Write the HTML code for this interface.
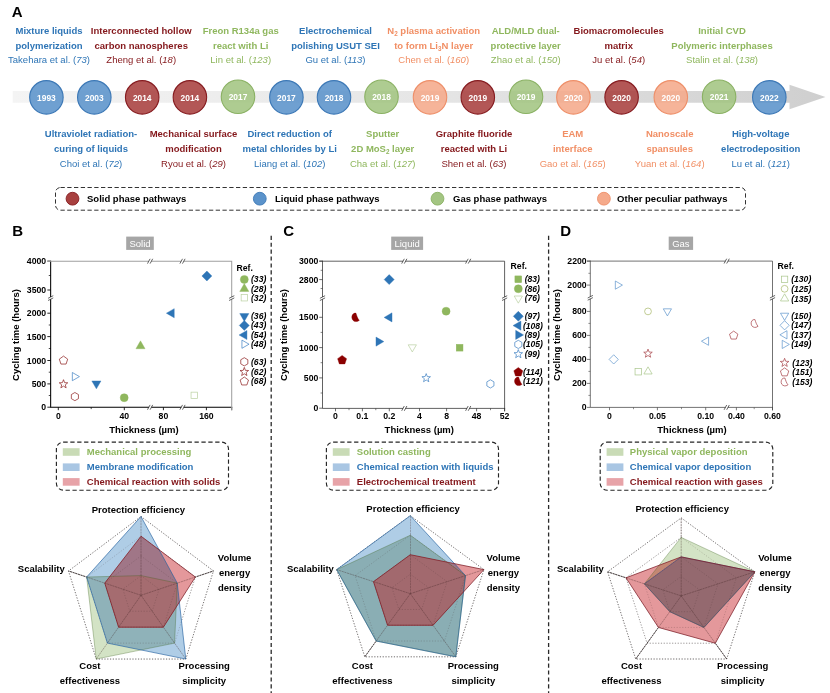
<!DOCTYPE html>
<html lang="en"><head><meta charset="utf-8"><title>Figure</title>
<style>
html,body{margin:0;padding:0;background:#fff;}
body{width:830px;height:693px;overflow:hidden;}
svg{display:block;font-family:"Liberation Sans", sans-serif;}
svg text{font-family:"Liberation Sans", sans-serif;}
</style></head><body>
<svg width="830" height="693" viewBox="0 0 830 693">
<rect width="830" height="693" fill="#fff"/>
<text x="11.80" y="17.30" font-size="15" font-weight="bold" fill="#000" text-anchor="start" >A</text>
<defs><linearGradient id="bar" x1="0" x2="1" y1="0" y2="0"><stop offset="0" stop-color="#f4f4f4"/><stop offset="0.5" stop-color="#e6e6e6"/><stop offset="1" stop-color="#cfcfcf"/></linearGradient></defs>
<path d="M12.7 91.1 H789.5 V84.8 L825.5 97 L789.5 109.3 V102.8 H12.7 Z" fill="url(#bar)"/>
<circle cx="46.4" cy="97.35" r="16.75" fill="#5b93cb" fill-opacity="0.88" stroke="#3c78b6" stroke-width="1.1"/>
<text x="46.40" y="100.50" font-size="8.4" font-weight="bold" fill="#fff" text-anchor="middle" >1993</text>
<circle cx="94.3" cy="97.35" r="16.75" fill="#5b93cb" fill-opacity="0.88" stroke="#3c78b6" stroke-width="1.1"/>
<text x="94.30" y="100.50" font-size="8.4" font-weight="bold" fill="#fff" text-anchor="middle" >2003</text>
<circle cx="142.2" cy="97.35" r="16.75" fill="#a8403f" fill-opacity="0.88" stroke="#861c20" stroke-width="1.1"/>
<text x="142.20" y="100.50" font-size="8.4" font-weight="bold" fill="#fff" text-anchor="middle" >2014</text>
<circle cx="189.9" cy="97.35" r="16.75" fill="#a8403f" fill-opacity="0.88" stroke="#861c20" stroke-width="1.1"/>
<text x="189.90" y="100.50" font-size="8.4" font-weight="bold" fill="#fff" text-anchor="middle" >2014</text>
<circle cx="238.0" cy="96.8" r="16.75" fill="#a3c582" fill-opacity="0.88" stroke="#8ab163" stroke-width="1.1"/>
<text x="238.00" y="100.20" font-size="8.4" font-weight="bold" fill="#fff" text-anchor="middle" >2017</text>
<circle cx="286.4" cy="97.35" r="16.75" fill="#5b93cb" fill-opacity="0.88" stroke="#3c78b6" stroke-width="1.1"/>
<text x="286.40" y="100.50" font-size="8.4" font-weight="bold" fill="#fff" text-anchor="middle" >2017</text>
<circle cx="334.0" cy="97.35" r="16.75" fill="#5b93cb" fill-opacity="0.88" stroke="#3c78b6" stroke-width="1.1"/>
<text x="334.00" y="100.50" font-size="8.4" font-weight="bold" fill="#fff" text-anchor="middle" >2018</text>
<circle cx="381.5" cy="96.8" r="16.75" fill="#a3c582" fill-opacity="0.88" stroke="#8ab163" stroke-width="1.1"/>
<text x="381.50" y="100.20" font-size="8.4" font-weight="bold" fill="#fff" text-anchor="middle" >2018</text>
<circle cx="430.0" cy="97.35" r="16.75" fill="#f5aa8b" fill-opacity="0.88" stroke="#ee8f69" stroke-width="1.1"/>
<text x="430.00" y="100.50" font-size="8.4" font-weight="bold" fill="#fff" text-anchor="middle" >2019</text>
<circle cx="477.8" cy="97.35" r="16.75" fill="#a8403f" fill-opacity="0.88" stroke="#861c20" stroke-width="1.1"/>
<text x="477.80" y="100.50" font-size="8.4" font-weight="bold" fill="#fff" text-anchor="middle" >2019</text>
<circle cx="526.0" cy="96.8" r="16.75" fill="#a3c582" fill-opacity="0.88" stroke="#8ab163" stroke-width="1.1"/>
<text x="526.00" y="100.20" font-size="8.4" font-weight="bold" fill="#fff" text-anchor="middle" >2019</text>
<circle cx="573.4" cy="97.35" r="16.75" fill="#f5aa8b" fill-opacity="0.88" stroke="#ee8f69" stroke-width="1.1"/>
<text x="573.40" y="100.50" font-size="8.4" font-weight="bold" fill="#fff" text-anchor="middle" >2020</text>
<circle cx="621.6" cy="97.35" r="16.75" fill="#a8403f" fill-opacity="0.88" stroke="#861c20" stroke-width="1.1"/>
<text x="621.60" y="100.50" font-size="8.4" font-weight="bold" fill="#fff" text-anchor="middle" >2020</text>
<circle cx="670.8" cy="97.35" r="16.75" fill="#f5aa8b" fill-opacity="0.88" stroke="#ee8f69" stroke-width="1.1"/>
<text x="670.80" y="100.50" font-size="8.4" font-weight="bold" fill="#fff" text-anchor="middle" >2020</text>
<circle cx="719.1" cy="96.8" r="16.75" fill="#a3c582" fill-opacity="0.88" stroke="#8ab163" stroke-width="1.1"/>
<text x="719.10" y="100.20" font-size="8.4" font-weight="bold" fill="#fff" text-anchor="middle" >2021</text>
<circle cx="769.3" cy="97.35" r="16.75" fill="#5b93cb" fill-opacity="0.88" stroke="#3c78b6" stroke-width="1.1"/>
<text x="769.30" y="100.50" font-size="8.4" font-weight="bold" fill="#fff" text-anchor="middle" >2022</text>
<text x="49.00" y="33.80" font-size="9.5" font-weight="bold" fill="#2e75b6" text-anchor="middle" >Mixture liquids</text>
<text x="49.00" y="48.80" font-size="9.5" font-weight="bold" fill="#2e75b6" text-anchor="middle" >polymerization</text>
<text x="49.00" y="63.20" font-size="9.5" font-weight="normal" fill="#2e75b6" text-anchor="middle" >Takehara et al. (<tspan font-style="italic">73</tspan>)</text>
<text x="141.20" y="33.80" font-size="9.5" font-weight="bold" fill="#84171b" text-anchor="middle" >Interconnected hollow</text>
<text x="141.20" y="48.80" font-size="9.5" font-weight="bold" fill="#84171b" text-anchor="middle" >carbon nanospheres</text>
<text x="141.20" y="63.20" font-size="9.5" font-weight="normal" fill="#84171b" text-anchor="middle" >Zheng et al. (<tspan font-style="italic">18</tspan>)</text>
<text x="240.70" y="33.80" font-size="9.5" font-weight="bold" fill="#8fb75e" text-anchor="middle" >Freon R134a gas</text>
<text x="240.70" y="48.80" font-size="9.5" font-weight="bold" fill="#8fb75e" text-anchor="middle" >react with Li</text>
<text x="240.70" y="63.20" font-size="9.5" font-weight="normal" fill="#8fb75e" text-anchor="middle" >Lin et al. (<tspan font-style="italic">123</tspan>)</text>
<text x="335.50" y="33.80" font-size="9.5" font-weight="bold" fill="#2e75b6" text-anchor="middle" >Electrochemical</text>
<text x="335.50" y="48.80" font-size="9.5" font-weight="bold" fill="#2e75b6" text-anchor="middle" >polishing USUT SEI</text>
<text x="335.50" y="63.20" font-size="9.5" font-weight="normal" fill="#2e75b6" text-anchor="middle" >Gu et al. (<tspan font-style="italic">113</tspan>)</text>
<text x="433.70" y="33.80" font-size="9.5" font-weight="bold" fill="#f18f65" text-anchor="middle" >N<tspan font-size="6.3" dy="2">2</tspan><tspan dy="-2">&#8203;</tspan> plasma activation</text>
<text x="433.70" y="48.80" font-size="9.5" font-weight="bold" fill="#f18f65" text-anchor="middle" >to form Li<tspan font-size="6.3" dy="2">3</tspan><tspan dy="-2">&#8203;</tspan>N layer</text>
<text x="433.70" y="63.20" font-size="9.5" font-weight="normal" fill="#f18f65" text-anchor="middle" >Chen et al. (<tspan font-style="italic">160</tspan>)</text>
<text x="525.70" y="33.80" font-size="9.5" font-weight="bold" fill="#8fb75e" text-anchor="middle" >ALD/MLD dual-</text>
<text x="525.70" y="48.80" font-size="9.5" font-weight="bold" fill="#8fb75e" text-anchor="middle" >protective layer</text>
<text x="525.70" y="63.20" font-size="9.5" font-weight="normal" fill="#8fb75e" text-anchor="middle" >Zhao et al. (<tspan font-style="italic">150</tspan>)</text>
<text x="618.70" y="33.80" font-size="9.5" font-weight="bold" fill="#84171b" text-anchor="middle" >Biomacromolecules</text>
<text x="618.70" y="48.80" font-size="9.5" font-weight="bold" fill="#84171b" text-anchor="middle" >matrix</text>
<text x="618.70" y="63.20" font-size="9.5" font-weight="normal" fill="#84171b" text-anchor="middle" >Ju et al. (<tspan font-style="italic">54</tspan>)</text>
<text x="722.00" y="33.80" font-size="9.5" font-weight="bold" fill="#8fb75e" text-anchor="middle" >Initial CVD</text>
<text x="722.00" y="48.80" font-size="9.5" font-weight="bold" fill="#8fb75e" text-anchor="middle" >Polymeric interphases</text>
<text x="722.00" y="63.20" font-size="9.5" font-weight="normal" fill="#8fb75e" text-anchor="middle" >Stalin et al. (<tspan font-style="italic">138</tspan>)</text>
<text x="91.00" y="137.20" font-size="9.5" font-weight="bold" fill="#2e75b6" text-anchor="middle" >Ultraviolet radiation-</text>
<text x="91.00" y="152.20" font-size="9.5" font-weight="bold" fill="#2e75b6" text-anchor="middle" >curing of liquids</text>
<text x="91.00" y="166.50" font-size="9.5" font-weight="normal" fill="#2e75b6" text-anchor="middle" >Choi et al. (<tspan font-style="italic">72</tspan>)</text>
<text x="193.50" y="137.20" font-size="9.5" font-weight="bold" fill="#84171b" text-anchor="middle" >Mechanical surface</text>
<text x="193.50" y="152.20" font-size="9.5" font-weight="bold" fill="#84171b" text-anchor="middle" >modification</text>
<text x="193.50" y="166.50" font-size="9.5" font-weight="normal" fill="#84171b" text-anchor="middle" >Ryou et al. (<tspan font-style="italic">29</tspan>)</text>
<text x="289.70" y="137.20" font-size="9.5" font-weight="bold" fill="#2e75b6" text-anchor="middle" >Direct reduction of</text>
<text x="289.70" y="152.20" font-size="9.5" font-weight="bold" fill="#2e75b6" text-anchor="middle" >metal chlorides by Li</text>
<text x="289.70" y="166.50" font-size="9.5" font-weight="normal" fill="#2e75b6" text-anchor="middle" >Liang et al. (<tspan font-style="italic">102</tspan>)</text>
<text x="382.70" y="137.20" font-size="9.5" font-weight="bold" fill="#8fb75e" text-anchor="middle" >Sputter</text>
<text x="382.70" y="152.20" font-size="9.5" font-weight="bold" fill="#8fb75e" text-anchor="middle" >2D MoS<tspan font-size="6.3" dy="2">2</tspan><tspan dy="-2">&#8203;</tspan> layer</text>
<text x="382.70" y="166.50" font-size="9.5" font-weight="normal" fill="#8fb75e" text-anchor="middle" >Cha et al. (<tspan font-style="italic">127</tspan>)</text>
<text x="474.00" y="137.20" font-size="9.5" font-weight="bold" fill="#84171b" text-anchor="middle" >Graphite fluoride</text>
<text x="474.00" y="152.20" font-size="9.5" font-weight="bold" fill="#84171b" text-anchor="middle" >reacted with Li</text>
<text x="474.00" y="166.50" font-size="9.5" font-weight="normal" fill="#84171b" text-anchor="middle" >Shen et al. (<tspan font-style="italic">63</tspan>)</text>
<text x="572.70" y="137.20" font-size="9.5" font-weight="bold" fill="#f18f65" text-anchor="middle" >EAM</text>
<text x="572.70" y="152.20" font-size="9.5" font-weight="bold" fill="#f18f65" text-anchor="middle" >interface</text>
<text x="572.70" y="166.50" font-size="9.5" font-weight="normal" fill="#f18f65" text-anchor="middle" >Gao et al. (<tspan font-style="italic">165</tspan>)</text>
<text x="669.70" y="137.20" font-size="9.5" font-weight="bold" fill="#f18f65" text-anchor="middle" >Nanoscale</text>
<text x="669.70" y="152.20" font-size="9.5" font-weight="bold" fill="#f18f65" text-anchor="middle" >spansules</text>
<text x="669.70" y="166.50" font-size="9.5" font-weight="normal" fill="#f18f65" text-anchor="middle" >Yuan et al. (<tspan font-style="italic">164</tspan>)</text>
<text x="760.70" y="137.20" font-size="9.5" font-weight="bold" fill="#2e75b6" text-anchor="middle" >High-voltage</text>
<text x="760.70" y="152.20" font-size="9.5" font-weight="bold" fill="#2e75b6" text-anchor="middle" >electrodeposition</text>
<text x="760.70" y="166.50" font-size="9.5" font-weight="normal" fill="#2e75b6" text-anchor="middle" >Lu et al. (<tspan font-style="italic">121</tspan>)</text>
<rect x="55.5" y="187.5" width="690" height="22.7" rx="5" fill="none" stroke="#333" stroke-width="1" stroke-dasharray="4.3 2.45"/>
<circle cx="72.5" cy="198.7" r="6.4" fill="#a8403f" stroke="#861c20" stroke-width="0.9"/>
<text x="87.00" y="202.30" font-size="9.5" font-weight="bold" fill="#000" text-anchor="start" >Solid phase pathways</text>
<circle cx="259.8" cy="198.7" r="6.4" fill="#5b93cb" stroke="#3c78b6" stroke-width="0.9"/>
<text x="275.00" y="202.30" font-size="9.5" font-weight="bold" fill="#000" text-anchor="start" >Liquid phase pathways</text>
<circle cx="437.5" cy="198.7" r="6.4" fill="#a3c582" stroke="#8ab163" stroke-width="0.9"/>
<text x="453.00" y="202.30" font-size="9.5" font-weight="bold" fill="#000" text-anchor="start" >Gas phase pathways</text>
<circle cx="603.9" cy="198.7" r="6.4" fill="#f5aa8b" stroke="#ee8f69" stroke-width="0.9"/>
<text x="617.10" y="202.30" font-size="9.5" font-weight="bold" fill="#000" text-anchor="start" >Other peculiar pathways</text>
<line x1="271.2" y1="235.8" x2="271.2" y2="693" stroke="#2a2a2a" stroke-width="1.3" stroke-dasharray="4.1 2.8"/>
<line x1="548.6" y1="235.8" x2="548.6" y2="693" stroke="#2a2a2a" stroke-width="1.3" stroke-dasharray="4.1 2.8"/>
<text x="12.20" y="236.20" font-size="15" font-weight="bold" fill="#000" text-anchor="start" >B</text>
<rect x="126.2" y="236.6" width="27.60" height="13.3" fill="#a6a6a6"/>
<text x="140.00" y="246.60" font-size="9.5" font-weight="normal" fill="#fff" text-anchor="middle" >Solid</text>
<line x1="47.35" y1="261.1" x2="50.65" y2="261.1" stroke="#000" stroke-width="0.85"/>
<text x="46.15" y="264.10" font-size="8.7" font-weight="bold" fill="#000" text-anchor="end" >4000</text>
<line x1="47.35" y1="290" x2="50.65" y2="290" stroke="#000" stroke-width="0.85"/>
<text x="46.15" y="293.00" font-size="8.7" font-weight="bold" fill="#000" text-anchor="end" >3500</text>
<line x1="47.35" y1="313.2" x2="50.65" y2="313.2" stroke="#000" stroke-width="0.85"/>
<text x="46.15" y="316.20" font-size="8.7" font-weight="bold" fill="#000" text-anchor="end" >2000</text>
<line x1="47.35" y1="336.6" x2="50.65" y2="336.6" stroke="#000" stroke-width="0.85"/>
<text x="46.15" y="339.60" font-size="8.7" font-weight="bold" fill="#000" text-anchor="end" >1500</text>
<line x1="47.35" y1="360.5" x2="50.65" y2="360.5" stroke="#000" stroke-width="0.85"/>
<text x="46.15" y="363.50" font-size="8.7" font-weight="bold" fill="#000" text-anchor="end" >1000</text>
<line x1="47.35" y1="383.9" x2="50.65" y2="383.9" stroke="#000" stroke-width="0.85"/>
<text x="46.15" y="386.90" font-size="8.7" font-weight="bold" fill="#000" text-anchor="end" >500</text>
<line x1="47.35" y1="407.2" x2="50.65" y2="407.2" stroke="#000" stroke-width="0.85"/>
<text x="46.15" y="410.20" font-size="8.7" font-weight="bold" fill="#000" text-anchor="end" >0</text>
<line x1="48.75" y1="275.5" x2="50.65" y2="275.5" stroke="#000" stroke-width="0.72"/>
<line x1="48.75" y1="325" x2="50.65" y2="325" stroke="#000" stroke-width="0.72"/>
<line x1="48.75" y1="348.5" x2="50.65" y2="348.5" stroke="#000" stroke-width="0.72"/>
<line x1="48.75" y1="372.2" x2="50.65" y2="372.2" stroke="#000" stroke-width="0.72"/>
<line x1="48.75" y1="395.5" x2="50.65" y2="395.5" stroke="#000" stroke-width="0.72"/>
<line x1="58.3" y1="407.3" x2="58.3" y2="410.20000000000005" stroke="#000" stroke-width="0.85"/>
<text x="58.30" y="418.50" font-size="8.7" font-weight="bold" fill="#000" text-anchor="middle" >0</text>
<line x1="124.3" y1="407.3" x2="124.3" y2="410.20000000000005" stroke="#000" stroke-width="0.85"/>
<text x="124.30" y="418.50" font-size="8.7" font-weight="bold" fill="#000" text-anchor="middle" >40</text>
<line x1="163.4" y1="407.3" x2="163.4" y2="410.20000000000005" stroke="#000" stroke-width="0.85"/>
<text x="163.40" y="418.50" font-size="8.7" font-weight="bold" fill="#000" text-anchor="middle" >80</text>
<line x1="206.4" y1="407.3" x2="206.4" y2="410.20000000000005" stroke="#000" stroke-width="0.85"/>
<text x="206.40" y="418.50" font-size="8.7" font-weight="bold" fill="#000" text-anchor="middle" >160</text>
<line x1="231.7" y1="407.3" x2="231.7" y2="410.20000000000005" stroke="#000" stroke-width="0.85"/>
<line x1="91.2" y1="407.3" x2="91.2" y2="409.1" stroke="#000" stroke-width="0.72"/>
<path d="M50.65 261.2 V407.3 H231.7" fill="none" stroke="#000" stroke-width="1.05" stroke-linecap="square"/>
<path d="M47.35 261.2 H231.7 V410.20000000000005" fill="none" stroke="#a0a0a0" stroke-width="1.05"/>
<rect x="148.90" y="260.00" width="2.4" height="2.4" fill="#fff"/>
<line x1="147.50" y1="263.60" x2="150.10" y2="258.80" stroke="#222" stroke-width="0.7"/>
<line x1="150.10" y1="263.60" x2="152.70" y2="258.80" stroke="#222" stroke-width="0.7"/>
<rect x="148.90" y="406.10" width="2.4" height="2.4" fill="#fff"/>
<line x1="147.50" y1="409.70" x2="150.10" y2="404.90" stroke="#222" stroke-width="0.7"/>
<line x1="150.10" y1="409.70" x2="152.70" y2="404.90" stroke="#222" stroke-width="0.7"/>
<rect x="181.30" y="260.00" width="2.4" height="2.4" fill="#fff"/>
<line x1="179.90" y1="263.60" x2="182.50" y2="258.80" stroke="#222" stroke-width="0.7"/>
<line x1="182.50" y1="263.60" x2="185.10" y2="258.80" stroke="#222" stroke-width="0.7"/>
<rect x="181.30" y="406.10" width="2.4" height="2.4" fill="#fff"/>
<line x1="179.90" y1="409.70" x2="182.50" y2="404.90" stroke="#222" stroke-width="0.7"/>
<line x1="182.50" y1="409.70" x2="185.10" y2="404.90" stroke="#222" stroke-width="0.7"/>
<rect x="49.45" y="297.00" width="2.4" height="2.2" fill="#fff"/>
<line x1="48.05" y1="298.30" x2="53.25" y2="295.70" stroke="#222" stroke-width="0.7"/>
<line x1="48.05" y1="300.50" x2="53.25" y2="297.90" stroke="#222" stroke-width="0.7"/>
<rect x="230.50" y="297.00" width="2.4" height="2.2" fill="#fff"/>
<line x1="229.10" y1="298.30" x2="234.30" y2="295.70" stroke="#222" stroke-width="0.7"/>
<line x1="229.10" y1="300.50" x2="234.30" y2="297.90" stroke="#222" stroke-width="0.7"/>
<text transform="translate(18.6 335) rotate(-90)" font-size="9.5" font-weight="bold" text-anchor="middle">Cycling time (hours)</text>
<text x="144.00" y="432.80" font-size="9.5" font-weight="bold" fill="#000" text-anchor="middle" >Thickness (µm)</text>
<polygon points="63.50,356.10 67.68,359.14 66.09,364.06 60.91,364.06 59.32,359.14" fill="#fff" stroke="#8b1a1a" stroke-width="0.7" stroke-linejoin="miter"/>
<polygon points="63.50,379.70 64.62,382.66 67.78,382.81 65.31,384.79 66.15,387.84 63.50,386.10 60.85,387.84 61.69,384.79 59.22,382.81 62.38,382.66" fill="#fff" stroke="#8b1a1a" stroke-width="0.7" stroke-linejoin="miter"/>
<polygon points="79.45,376.60 72.33,380.71 72.33,372.49" fill="#fff" stroke="#3d7fc1" stroke-width="0.7" stroke-linejoin="miter"/>
<polygon points="96.40,388.85 91.85,380.98 100.95,380.98" fill="#2e75b6" stroke="#2e75b6" stroke-width="0.4" stroke-linejoin="miter"/>
<polygon points="74.90,392.50 78.45,394.55 78.45,398.65 74.90,400.70 71.35,398.65 71.35,394.55" fill="#fff" stroke="#8b1a1a" stroke-width="0.7" stroke-linejoin="miter"/>
<circle cx="124.20" cy="397.70" r="4.0" fill="#8fb75e" stroke="#8fb75e" stroke-width="0.4"/>
<polygon points="140.50,340.85 145.05,348.73 135.95,348.73" fill="#8fb75e" stroke="#8fb75e" stroke-width="0.4" stroke-linejoin="miter"/>
<polygon points="166.35,313.20 174.22,308.65 174.22,317.75" fill="#2e75b6" stroke="#2e75b6" stroke-width="0.4" stroke-linejoin="miter"/>
<polygon points="206.90,271.00 211.90,276.00 206.90,281.00 201.90,276.00" fill="#2e75b6" stroke="#2e75b6" stroke-width="0.4" stroke-linejoin="miter"/>
<rect x="191.05" y="392.15" width="6.3" height="6.3" fill="#fff" stroke="#b9d0a0" stroke-width="0.7"/>
<text x="236.40" y="270.50" font-size="8.7" font-weight="bold" fill="#000" text-anchor="start" >Ref.</text>
<circle cx="244.30" cy="279.40" r="4.0" fill="#8fb75e" stroke="#8fb75e" stroke-width="0.4"/>
<text x="251.00" y="282.40" font-size="8.6" font-weight="bold" fill="#000" text-anchor="start" font-style="italic">(33)</text>
<polygon points="244.30,283.55 248.85,291.43 239.75,291.43" fill="#8fb75e" stroke="#8fb75e" stroke-width="0.4" stroke-linejoin="miter"/>
<text x="251.00" y="291.80" font-size="8.6" font-weight="bold" fill="#000" text-anchor="start" font-style="italic">(28)</text>
<rect x="241.15" y="294.65" width="6.3" height="6.3" fill="#fff" stroke="#b9d0a0" stroke-width="0.7"/>
<text x="251.00" y="300.80" font-size="8.6" font-weight="bold" fill="#000" text-anchor="start" font-style="italic">(32)</text>
<polygon points="244.30,321.45 239.75,313.57 248.85,313.57" fill="#2e75b6" stroke="#2e75b6" stroke-width="0.4" stroke-linejoin="miter"/>
<text x="251.00" y="319.20" font-size="8.6" font-weight="bold" fill="#000" text-anchor="start" font-style="italic">(36)</text>
<polygon points="244.30,320.40 249.30,325.40 244.30,330.40 239.30,325.40" fill="#2e75b6" stroke="#2e75b6" stroke-width="0.4" stroke-linejoin="miter"/>
<text x="251.00" y="328.40" font-size="8.6" font-weight="bold" fill="#000" text-anchor="start" font-style="italic">(43)</text>
<polygon points="239.05,335.00 246.93,330.45 246.93,339.55" fill="#2e75b6" stroke="#2e75b6" stroke-width="0.4" stroke-linejoin="miter"/>
<text x="251.00" y="338.00" font-size="8.6" font-weight="bold" fill="#000" text-anchor="start" font-style="italic">(54)</text>
<polygon points="249.05,344.20 241.93,348.31 241.93,340.09" fill="#fff" stroke="#3d7fc1" stroke-width="0.7" stroke-linejoin="miter"/>
<text x="251.00" y="347.20" font-size="8.6" font-weight="bold" fill="#000" text-anchor="start" font-style="italic">(48)</text>
<polygon points="244.30,357.70 247.85,359.75 247.85,363.85 244.30,365.90 240.75,363.85 240.75,359.75" fill="#fff" stroke="#8b1a1a" stroke-width="0.7" stroke-linejoin="miter"/>
<text x="251.00" y="364.80" font-size="8.6" font-weight="bold" fill="#000" text-anchor="start" font-style="italic">(63)</text>
<polygon points="244.30,367.40 245.42,370.36 248.58,370.51 246.11,372.49 246.95,375.54 244.30,373.80 241.65,375.54 242.49,372.49 240.02,370.51 243.18,370.36" fill="#fff" stroke="#8b1a1a" stroke-width="0.7" stroke-linejoin="miter"/>
<text x="251.00" y="374.60" font-size="8.6" font-weight="bold" fill="#000" text-anchor="start" font-style="italic">(62)</text>
<polygon points="244.30,377.00 248.48,380.04 246.89,384.96 241.71,384.96 240.12,380.04" fill="#fff" stroke="#8b1a1a" stroke-width="0.7" stroke-linejoin="miter"/>
<text x="251.00" y="384.10" font-size="8.6" font-weight="bold" fill="#000" text-anchor="start" font-style="italic">(68)</text>
<text x="283.20" y="236.20" font-size="15" font-weight="bold" fill="#000" text-anchor="start" >C</text>
<rect x="391.2" y="236.6" width="31.90" height="13.3" fill="#a6a6a6"/>
<text x="407.15" y="246.60" font-size="9.5" font-weight="normal" fill="#fff" text-anchor="middle" >Liquid</text>
<line x1="319.2" y1="261.1" x2="322.5" y2="261.1" stroke="#2e2e2e" stroke-width="0.7"/>
<text x="318.30" y="264.10" font-size="8.7" font-weight="bold" fill="#000" text-anchor="end" >3000</text>
<line x1="319.2" y1="279.6" x2="322.5" y2="279.6" stroke="#2e2e2e" stroke-width="0.7"/>
<text x="318.30" y="282.60" font-size="8.7" font-weight="bold" fill="#000" text-anchor="end" >2800</text>
<line x1="319.2" y1="317.3" x2="322.5" y2="317.3" stroke="#2e2e2e" stroke-width="0.7"/>
<text x="318.30" y="320.30" font-size="8.7" font-weight="bold" fill="#000" text-anchor="end" >1500</text>
<line x1="319.2" y1="347.6" x2="322.5" y2="347.6" stroke="#2e2e2e" stroke-width="0.7"/>
<text x="318.30" y="350.60" font-size="8.7" font-weight="bold" fill="#000" text-anchor="end" >1000</text>
<line x1="319.2" y1="377.9" x2="322.5" y2="377.9" stroke="#2e2e2e" stroke-width="0.7"/>
<text x="318.30" y="380.90" font-size="8.7" font-weight="bold" fill="#000" text-anchor="end" >500</text>
<line x1="319.2" y1="408.2" x2="322.5" y2="408.2" stroke="#2e2e2e" stroke-width="0.7"/>
<text x="318.30" y="411.20" font-size="8.7" font-weight="bold" fill="#000" text-anchor="end" >0</text>
<line x1="320.6" y1="270.3" x2="322.5" y2="270.3" stroke="#2e2e2e" stroke-width="0.59"/>
<line x1="320.6" y1="288.5" x2="322.5" y2="288.5" stroke="#2e2e2e" stroke-width="0.59"/>
<line x1="320.6" y1="332.4" x2="322.5" y2="332.4" stroke="#2e2e2e" stroke-width="0.59"/>
<line x1="320.6" y1="362.7" x2="322.5" y2="362.7" stroke="#2e2e2e" stroke-width="0.59"/>
<line x1="320.6" y1="393" x2="322.5" y2="393" stroke="#2e2e2e" stroke-width="0.59"/>
<line x1="335.5" y1="408.4" x2="335.5" y2="411.3" stroke="#2e2e2e" stroke-width="0.7"/>
<text x="335.50" y="418.50" font-size="8.7" font-weight="bold" fill="#000" text-anchor="middle" >0</text>
<line x1="362.4" y1="408.4" x2="362.4" y2="411.3" stroke="#2e2e2e" stroke-width="0.7"/>
<text x="362.40" y="418.50" font-size="8.7" font-weight="bold" fill="#000" text-anchor="middle" >0.1</text>
<line x1="389.3" y1="408.4" x2="389.3" y2="411.3" stroke="#2e2e2e" stroke-width="0.7"/>
<text x="389.30" y="418.50" font-size="8.7" font-weight="bold" fill="#000" text-anchor="middle" >0.2</text>
<line x1="419.5" y1="408.4" x2="419.5" y2="411.3" stroke="#2e2e2e" stroke-width="0.7"/>
<text x="419.50" y="418.50" font-size="8.7" font-weight="bold" fill="#000" text-anchor="middle" >4</text>
<line x1="446.6" y1="408.4" x2="446.6" y2="411.3" stroke="#2e2e2e" stroke-width="0.7"/>
<text x="446.60" y="418.50" font-size="8.7" font-weight="bold" fill="#000" text-anchor="middle" >8</text>
<line x1="476.6" y1="408.4" x2="476.6" y2="411.3" stroke="#2e2e2e" stroke-width="0.7"/>
<text x="476.60" y="418.50" font-size="8.7" font-weight="bold" fill="#000" text-anchor="middle" >48</text>
<line x1="504.6" y1="408.4" x2="504.6" y2="411.3" stroke="#2e2e2e" stroke-width="0.7"/>
<text x="504.60" y="418.50" font-size="8.7" font-weight="bold" fill="#000" text-anchor="middle" >52</text>
<line x1="349" y1="408.4" x2="349" y2="410.2" stroke="#2e2e2e" stroke-width="0.59"/>
<line x1="375.8" y1="408.4" x2="375.8" y2="410.2" stroke="#2e2e2e" stroke-width="0.59"/>
<line x1="490.5" y1="408.4" x2="490.5" y2="410.2" stroke="#2e2e2e" stroke-width="0.59"/>
<path d="M322.5 261.2 V408.4 H504.6" fill="none" stroke="#2e2e2e" stroke-width="0.75" stroke-linecap="square"/>
<path d="M319.2 261.2 H504.6 V411.3" fill="none" stroke="#2e2e2e" stroke-width="0.75"/>
<rect x="403.10" y="260.00" width="2.4" height="2.4" fill="#fff"/>
<line x1="401.70" y1="263.60" x2="404.30" y2="258.80" stroke="#222" stroke-width="0.7"/>
<line x1="404.30" y1="263.60" x2="406.90" y2="258.80" stroke="#222" stroke-width="0.7"/>
<rect x="403.10" y="407.20" width="2.4" height="2.4" fill="#fff"/>
<line x1="401.70" y1="410.80" x2="404.30" y2="406.00" stroke="#222" stroke-width="0.7"/>
<line x1="404.30" y1="410.80" x2="406.90" y2="406.00" stroke="#222" stroke-width="0.7"/>
<rect x="467.00" y="260.00" width="2.4" height="2.4" fill="#fff"/>
<line x1="465.60" y1="263.60" x2="468.20" y2="258.80" stroke="#222" stroke-width="0.7"/>
<line x1="468.20" y1="263.60" x2="470.80" y2="258.80" stroke="#222" stroke-width="0.7"/>
<rect x="467.00" y="407.20" width="2.4" height="2.4" fill="#fff"/>
<line x1="465.60" y1="410.80" x2="468.20" y2="406.00" stroke="#222" stroke-width="0.7"/>
<line x1="468.20" y1="410.80" x2="470.80" y2="406.00" stroke="#222" stroke-width="0.7"/>
<rect x="321.30" y="297.00" width="2.4" height="2.2" fill="#fff"/>
<line x1="319.90" y1="298.30" x2="325.10" y2="295.70" stroke="#222" stroke-width="0.7"/>
<line x1="319.90" y1="300.50" x2="325.10" y2="297.90" stroke="#222" stroke-width="0.7"/>
<rect x="503.40" y="297.00" width="2.4" height="2.2" fill="#fff"/>
<line x1="502.00" y1="298.30" x2="507.20" y2="295.70" stroke="#222" stroke-width="0.7"/>
<line x1="502.00" y1="300.50" x2="507.20" y2="297.90" stroke="#222" stroke-width="0.7"/>
<text transform="translate(286.8 335) rotate(-90)" font-size="9.5" font-weight="bold" text-anchor="middle">Cycling time (hours)</text>
<text x="419.30" y="432.80" font-size="9.5" font-weight="bold" fill="#000" text-anchor="middle" >Thickness (µm)</text>
<polygon points="389.20,274.60 394.20,279.60 389.20,284.60 384.20,279.60" fill="#2e75b6" stroke="#2e75b6" stroke-width="0.4" stroke-linejoin="miter"/>
<polygon points="384.15,317.40 392.02,312.85 392.02,321.95" fill="#2e75b6" stroke="#2e75b6" stroke-width="0.4" stroke-linejoin="miter"/>
<path d="M355.90 313.10 C353.00 312.80 351.60 315.40 351.90 318.00 C352.20 320.80 355.00 322.00 357.20 321.50 L359.30 320.40 C357.60 318.60 356.80 315.80 355.90 313.10 Z" fill="#8b0000" stroke="#8b0000" stroke-width="0.4"/>
<polygon points="383.85,341.60 375.98,346.15 375.98,337.05" fill="#2e75b6" stroke="#2e75b6" stroke-width="0.4" stroke-linejoin="miter"/>
<polygon points="342.10,355.40 346.57,358.65 344.86,363.90 339.34,363.90 337.63,358.65" fill="#8b0000" stroke="#8b0000" stroke-width="0.4" stroke-linejoin="miter"/>
<circle cx="446.10" cy="311.20" r="4.0" fill="#8fb75e" stroke="#8fb75e" stroke-width="0.4"/>
<polygon points="412.30,351.95 408.19,344.82 416.41,344.82" fill="#fff" stroke="#b9d0a0" stroke-width="0.7" stroke-linejoin="miter"/>
<rect x="456.20" y="344.30" width="6.8" height="6.8" fill="#8fb75e" stroke="#8fb75e" stroke-width="0.4"/>
<polygon points="426.20,373.60 427.32,376.56 430.48,376.71 428.01,378.69 428.85,381.74 426.20,380.00 423.55,381.74 424.39,378.69 421.92,376.71 425.08,376.56" fill="#fff" stroke="#3d7fc1" stroke-width="0.7" stroke-linejoin="miter"/>
<polygon points="490.40,379.80 493.95,381.85 493.95,385.95 490.40,388.00 486.85,385.95 486.85,381.85" fill="#fff" stroke="#3d7fc1" stroke-width="0.7" stroke-linejoin="miter"/>
<text x="510.60" y="269.20" font-size="8.7" font-weight="bold" fill="#000" text-anchor="start" >Ref.</text>
<rect x="514.90" y="275.90" width="6.8" height="6.8" fill="#8fb75e" stroke="#8fb75e" stroke-width="0.4"/>
<text x="524.70" y="282.30" font-size="8.6" font-weight="bold" fill="#000" text-anchor="start" font-style="italic">(83)</text>
<circle cx="518.30" cy="288.80" r="4.0" fill="#8fb75e" stroke="#8fb75e" stroke-width="0.4"/>
<text x="524.70" y="291.80" font-size="8.6" font-weight="bold" fill="#000" text-anchor="start" font-style="italic">(86)</text>
<polygon points="518.30,303.15 514.19,296.02 522.41,296.02" fill="#fff" stroke="#b9d0a0" stroke-width="0.7" stroke-linejoin="miter"/>
<text x="524.70" y="301.40" font-size="8.6" font-weight="bold" fill="#000" text-anchor="start" font-style="italic">(76)</text>
<polygon points="518.30,311.30 523.30,316.30 518.30,321.30 513.30,316.30" fill="#2e75b6" stroke="#2e75b6" stroke-width="0.4" stroke-linejoin="miter"/>
<text x="524.70" y="319.30" font-size="8.6" font-weight="bold" fill="#000" text-anchor="start" font-style="italic">(97)</text>
<polygon points="513.05,325.60 520.92,321.05 520.92,330.15" fill="#2e75b6" stroke="#2e75b6" stroke-width="0.4" stroke-linejoin="miter"/>
<text x="522.90" y="328.60" font-size="8.6" font-weight="bold" fill="#000" text-anchor="start" font-style="italic">(108)</text>
<polygon points="523.55,334.90 515.67,339.45 515.67,330.35" fill="#2e75b6" stroke="#2e75b6" stroke-width="0.4" stroke-linejoin="miter"/>
<text x="524.70" y="337.90" font-size="8.6" font-weight="bold" fill="#000" text-anchor="start" font-style="italic">(89)</text>
<polygon points="518.30,340.30 521.85,342.35 521.85,346.45 518.30,348.50 514.75,346.45 514.75,342.35" fill="#fff" stroke="#3d7fc1" stroke-width="0.7" stroke-linejoin="miter"/>
<text x="522.90" y="347.40" font-size="8.6" font-weight="bold" fill="#000" text-anchor="start" font-style="italic">(105)</text>
<polygon points="518.30,349.60 519.42,352.56 522.58,352.71 520.11,354.69 520.95,357.74 518.30,356.00 515.65,357.74 516.49,354.69 514.02,352.71 517.18,352.56" fill="#fff" stroke="#3d7fc1" stroke-width="0.7" stroke-linejoin="miter"/>
<text x="524.70" y="356.80" font-size="8.6" font-weight="bold" fill="#000" text-anchor="start" font-style="italic">(99)</text>
<polygon points="518.30,367.50 522.77,370.75 521.06,376.00 515.54,376.00 513.83,370.75" fill="#8b0000" stroke="#8b0000" stroke-width="0.4" stroke-linejoin="miter"/>
<text x="522.90" y="374.90" font-size="8.6" font-weight="bold" fill="#000" text-anchor="start" font-style="italic">(114)</text>
<path d="M518.60 377.10 C515.70 376.80 514.30 379.40 514.60 382.00 C514.90 384.80 517.70 386.00 519.90 385.50 L522.00 384.40 C520.30 382.60 519.50 379.80 518.60 377.10 Z" fill="#8b0000" stroke="#8b0000" stroke-width="0.4"/>
<text x="522.90" y="384.40" font-size="8.6" font-weight="bold" fill="#000" text-anchor="start" font-style="italic">(121)</text>
<text x="560.20" y="236.20" font-size="15" font-weight="bold" fill="#000" text-anchor="start" >D</text>
<rect x="668.7" y="236.6" width="24.40" height="13.3" fill="#a6a6a6"/>
<text x="680.90" y="246.60" font-size="9.5" font-weight="normal" fill="#fff" text-anchor="middle" >Gas</text>
<line x1="587.0" y1="261.1" x2="590.3" y2="261.1" stroke="#444" stroke-width="0.7"/>
<text x="586.70" y="264.10" font-size="8.7" font-weight="bold" fill="#000" text-anchor="end" >2200</text>
<line x1="587.0" y1="285.1" x2="590.3" y2="285.1" stroke="#444" stroke-width="0.7"/>
<text x="586.70" y="288.10" font-size="8.7" font-weight="bold" fill="#000" text-anchor="end" >2000</text>
<line x1="587.0" y1="311.4" x2="590.3" y2="311.4" stroke="#444" stroke-width="0.7"/>
<text x="586.70" y="314.40" font-size="8.7" font-weight="bold" fill="#000" text-anchor="end" >800</text>
<line x1="587.0" y1="335.4" x2="590.3" y2="335.4" stroke="#444" stroke-width="0.7"/>
<text x="586.70" y="338.40" font-size="8.7" font-weight="bold" fill="#000" text-anchor="end" >600</text>
<line x1="587.0" y1="359.4" x2="590.3" y2="359.4" stroke="#444" stroke-width="0.7"/>
<text x="586.70" y="362.40" font-size="8.7" font-weight="bold" fill="#000" text-anchor="end" >400</text>
<line x1="587.0" y1="383.4" x2="590.3" y2="383.4" stroke="#444" stroke-width="0.7"/>
<text x="586.70" y="386.40" font-size="8.7" font-weight="bold" fill="#000" text-anchor="end" >200</text>
<line x1="587.0" y1="407.4" x2="590.3" y2="407.4" stroke="#444" stroke-width="0.7"/>
<text x="586.70" y="410.40" font-size="8.7" font-weight="bold" fill="#000" text-anchor="end" >0</text>
<line x1="588.4" y1="273.3" x2="590.3" y2="273.3" stroke="#444" stroke-width="0.59"/>
<line x1="588.4" y1="323.4" x2="590.3" y2="323.4" stroke="#444" stroke-width="0.59"/>
<line x1="588.4" y1="347.4" x2="590.3" y2="347.4" stroke="#444" stroke-width="0.59"/>
<line x1="588.4" y1="371.4" x2="590.3" y2="371.4" stroke="#444" stroke-width="0.59"/>
<line x1="588.4" y1="395.4" x2="590.3" y2="395.4" stroke="#444" stroke-width="0.59"/>
<line x1="609.5" y1="407.4" x2="609.5" y2="410.3" stroke="#444" stroke-width="0.7"/>
<text x="609.50" y="418.50" font-size="8.7" font-weight="bold" fill="#000" text-anchor="middle" >0</text>
<line x1="657.4" y1="407.4" x2="657.4" y2="410.3" stroke="#444" stroke-width="0.7"/>
<text x="657.40" y="418.50" font-size="8.7" font-weight="bold" fill="#000" text-anchor="middle" >0.05</text>
<line x1="705.7" y1="407.4" x2="705.7" y2="410.3" stroke="#444" stroke-width="0.7"/>
<text x="705.70" y="418.50" font-size="8.7" font-weight="bold" fill="#000" text-anchor="middle" >0.10</text>
<line x1="736.4" y1="407.4" x2="736.4" y2="410.3" stroke="#444" stroke-width="0.7"/>
<text x="736.40" y="418.50" font-size="8.7" font-weight="bold" fill="#000" text-anchor="middle" >0.40</text>
<line x1="772.5" y1="407.4" x2="772.5" y2="410.3" stroke="#444" stroke-width="0.7"/>
<text x="772.50" y="418.50" font-size="8.7" font-weight="bold" fill="#000" text-anchor="middle" >0.60</text>
<line x1="633.5" y1="407.4" x2="633.5" y2="409.2" stroke="#444" stroke-width="0.59"/>
<line x1="681.5" y1="407.4" x2="681.5" y2="409.2" stroke="#444" stroke-width="0.59"/>
<line x1="754.2" y1="407.4" x2="754.2" y2="409.2" stroke="#444" stroke-width="0.59"/>
<path d="M590.3 261.1 V407.4 H772.5" fill="none" stroke="#444" stroke-width="0.75" stroke-linecap="square"/>
<path d="M587.0 261.1 H772.5 V410.3" fill="none" stroke="#444" stroke-width="0.75"/>
<rect x="725.50" y="259.90" width="2.4" height="2.4" fill="#fff"/>
<line x1="724.10" y1="263.50" x2="726.70" y2="258.70" stroke="#222" stroke-width="0.7"/>
<line x1="726.70" y1="263.50" x2="729.30" y2="258.70" stroke="#222" stroke-width="0.7"/>
<rect x="725.50" y="406.20" width="2.4" height="2.4" fill="#fff"/>
<line x1="724.10" y1="409.80" x2="726.70" y2="405.00" stroke="#222" stroke-width="0.7"/>
<line x1="726.70" y1="409.80" x2="729.30" y2="405.00" stroke="#222" stroke-width="0.7"/>
<rect x="589.10" y="296.70" width="2.4" height="2.2" fill="#fff"/>
<line x1="587.70" y1="298.00" x2="592.90" y2="295.40" stroke="#222" stroke-width="0.7"/>
<line x1="587.70" y1="300.20" x2="592.90" y2="297.60" stroke="#222" stroke-width="0.7"/>
<rect x="771.30" y="296.70" width="2.4" height="2.2" fill="#fff"/>
<line x1="769.90" y1="298.00" x2="775.10" y2="295.40" stroke="#222" stroke-width="0.7"/>
<line x1="769.90" y1="300.20" x2="775.10" y2="297.60" stroke="#222" stroke-width="0.7"/>
<text transform="translate(560.1 335) rotate(-90)" font-size="9.5" font-weight="bold" text-anchor="middle">Cycling time (hours)</text>
<text x="692.00" y="432.80" font-size="9.5" font-weight="bold" fill="#000" text-anchor="middle" >Thickness (µm)</text>
<polygon points="622.45,285.10 615.33,289.21 615.33,280.99" fill="#fff" stroke="#5b93cb" stroke-width="0.7" stroke-linejoin="miter"/>
<circle cx="648.00" cy="311.40" r="3.4" fill="#fff" stroke="#a8b868" stroke-width="0.7"/>
<polygon points="667.40,315.95 663.29,308.82 671.51,308.82" fill="#fff" stroke="#5b93cb" stroke-width="0.7" stroke-linejoin="miter"/>
<polygon points="613.70,354.80 618.30,359.40 613.70,364.00 609.10,359.40" fill="#fff" stroke="#5b93cb" stroke-width="0.7" stroke-linejoin="miter"/>
<polygon points="648.00,349.10 649.12,352.06 652.28,352.21 649.81,354.19 650.65,357.24 648.00,355.50 645.35,357.24 646.19,354.19 643.72,352.21 646.88,352.06" fill="#fff" stroke="#a53d43" stroke-width="0.7" stroke-linejoin="miter"/>
<rect x="635.05" y="368.65" width="6.3" height="6.3" fill="#fff" stroke="#a9c58a" stroke-width="0.7"/>
<polygon points="648.00,366.85 652.11,373.98 643.89,373.98" fill="#fff" stroke="#a9c58a" stroke-width="0.7" stroke-linejoin="miter"/>
<polygon points="701.45,341.20 708.58,337.09 708.58,345.31" fill="#fff" stroke="#5b93cb" stroke-width="0.7" stroke-linejoin="miter"/>
<polygon points="733.70,331.10 737.88,334.14 736.29,339.06 731.11,339.06 729.52,334.14" fill="#fff" stroke="#a53d43" stroke-width="0.7" stroke-linejoin="miter"/>
<path d="M754.88 319.50 C752.18 319.22 750.88 321.64 751.16 324.06 C751.44 326.66 754.04 327.78 756.09 327.31 L758.04 326.29 C756.46 324.62 755.72 322.01 754.88 319.50 Z" fill="#fff" stroke="#a53d43" stroke-width="0.7"/>
<text x="777.60" y="269.20" font-size="8.7" font-weight="bold" fill="#000" text-anchor="start" >Ref.</text>
<rect x="781.45" y="276.15" width="6.3" height="6.3" fill="#fff" stroke="#a9c58a" stroke-width="0.7"/>
<text x="791.20" y="282.30" font-size="8.6" font-weight="bold" fill="#000" text-anchor="start" font-style="italic">(130)</text>
<circle cx="784.60" cy="288.80" r="3.4" fill="#fff" stroke="#a8b868" stroke-width="0.7"/>
<text x="791.20" y="291.80" font-size="8.6" font-weight="bold" fill="#000" text-anchor="start" font-style="italic">(125)</text>
<polygon points="784.60,293.85 788.71,300.98 780.49,300.98" fill="#fff" stroke="#a9c58a" stroke-width="0.7" stroke-linejoin="miter"/>
<text x="791.20" y="301.60" font-size="8.6" font-weight="bold" fill="#000" text-anchor="start" font-style="italic">(135)</text>
<polygon points="784.60,320.35 780.49,313.23 788.71,313.23" fill="#fff" stroke="#5b93cb" stroke-width="0.7" stroke-linejoin="miter"/>
<text x="791.20" y="318.60" font-size="8.6" font-weight="bold" fill="#000" text-anchor="start" font-style="italic">(150)</text>
<polygon points="784.60,320.70 789.20,325.30 784.60,329.90 780.00,325.30" fill="#fff" stroke="#5b93cb" stroke-width="0.7" stroke-linejoin="miter"/>
<text x="791.20" y="328.30" font-size="8.6" font-weight="bold" fill="#000" text-anchor="start" font-style="italic">(147)</text>
<polygon points="779.85,334.80 786.98,330.69 786.98,338.91" fill="#fff" stroke="#5b93cb" stroke-width="0.7" stroke-linejoin="miter"/>
<text x="791.20" y="337.80" font-size="8.6" font-weight="bold" fill="#000" text-anchor="start" font-style="italic">(137)</text>
<polygon points="789.35,344.40 782.23,348.51 782.23,340.29" fill="#fff" stroke="#5b93cb" stroke-width="0.7" stroke-linejoin="miter"/>
<text x="791.20" y="347.40" font-size="8.6" font-weight="bold" fill="#000" text-anchor="start" font-style="italic">(149)</text>
<polygon points="784.60,358.30 785.72,361.26 788.88,361.41 786.41,363.39 787.25,366.44 784.60,364.70 781.95,366.44 782.79,363.39 780.32,361.41 783.48,361.26" fill="#fff" stroke="#a53d43" stroke-width="0.7" stroke-linejoin="miter"/>
<text x="792.30" y="365.50" font-size="8.6" font-weight="bold" fill="#000" text-anchor="start" font-style="italic">(123)</text>
<polygon points="784.60,367.90 788.78,370.94 787.19,375.86 782.01,375.86 780.42,370.94" fill="#fff" stroke="#a53d43" stroke-width="0.7" stroke-linejoin="miter"/>
<text x="792.30" y="375.00" font-size="8.6" font-weight="bold" fill="#000" text-anchor="start" font-style="italic">(151)</text>
<path d="M784.88 378.00 C782.18 377.72 780.88 380.14 781.16 382.56 C781.44 385.16 784.04 386.28 786.09 385.81 L788.04 384.79 C786.46 383.12 785.72 380.51 784.88 378.00 Z" fill="#fff" stroke="#a53d43" stroke-width="0.7"/>
<text x="792.30" y="385.00" font-size="8.6" font-weight="bold" fill="#000" text-anchor="start" font-style="italic">(153)</text>
<rect x="56.4" y="442.1" width="172.10" height="48.1" rx="7" fill="none" stroke="#262626" stroke-width="1.15" stroke-dasharray="4.3 2.6"/>
<rect x="62.8" y="448.2" width="16.8" height="7.6" fill="#c9dbb6"/>
<text x="86.80" y="454.60" font-size="9.5" font-weight="bold" fill="#8fb75e" text-anchor="start" >Mechanical processing</text>
<rect x="62.8" y="463.4" width="16.8" height="7.6" fill="#a9c6e3"/>
<text x="86.80" y="470.00" font-size="9.5" font-weight="bold" fill="#2e75b6" text-anchor="start" >Membrane modification</text>
<rect x="62.8" y="478.1" width="16.8" height="7.6" fill="#e7a3a8"/>
<text x="86.80" y="484.70" font-size="9.5" font-weight="bold" fill="#84171b" text-anchor="start" >Chemical reaction with solids</text>
<rect x="326.4" y="442.1" width="172.10" height="48.1" rx="7" fill="none" stroke="#262626" stroke-width="1.15" stroke-dasharray="4.3 2.6"/>
<rect x="332.8" y="448.2" width="16.8" height="7.6" fill="#c9dbb6"/>
<text x="356.80" y="454.60" font-size="9.5" font-weight="bold" fill="#8fb75e" text-anchor="start" >Solution casting</text>
<rect x="332.8" y="463.4" width="16.8" height="7.6" fill="#a9c6e3"/>
<text x="356.80" y="470.00" font-size="9.5" font-weight="bold" fill="#2e75b6" text-anchor="start" >Chemical reaction with liquids</text>
<rect x="332.8" y="478.1" width="16.8" height="7.6" fill="#e7a3a8"/>
<text x="356.80" y="484.70" font-size="9.5" font-weight="bold" fill="#84171b" text-anchor="start" >Electrochemical treatment</text>
<rect x="600.2" y="442.1" width="172.60" height="48.1" rx="7" fill="none" stroke="#262626" stroke-width="1.15" stroke-dasharray="4.3 2.6"/>
<rect x="606.6" y="448.2" width="16.8" height="7.6" fill="#c9dbb6"/>
<text x="629.80" y="454.60" font-size="9.5" font-weight="bold" fill="#8fb75e" text-anchor="start" >Physical vapor deposition</text>
<rect x="606.6" y="463.4" width="16.8" height="7.6" fill="#a9c6e3"/>
<text x="629.80" y="470.00" font-size="9.5" font-weight="bold" fill="#2e75b6" text-anchor="start" >Chemical vapor deposition</text>
<rect x="606.6" y="478.1" width="16.8" height="7.6" fill="#e7a3a8"/>
<text x="629.80" y="484.70" font-size="9.5" font-weight="bold" fill="#84171b" text-anchor="start" >Chemical reaction with gases</text>
<polygon points="141.00,575.60 159.12,589.21 152.20,611.24 129.80,611.24 122.88,589.21" fill="none" stroke="#777" stroke-width="0.5" stroke-dasharray="1.2 1.6" opacity="1"/>
<polygon points="141.00,555.90 177.24,583.12 163.39,627.18 118.61,627.18 104.76,583.12" fill="none" stroke="#777" stroke-width="0.5" stroke-dasharray="1.2 1.6" opacity="1"/>
<polygon points="141.00,536.20 195.35,577.04 174.59,643.11 107.41,643.11 86.65,577.04" fill="none" stroke="#777" stroke-width="0.5" stroke-dasharray="1.2 1.6" opacity="1"/>
<polygon points="141.00,516.50 213.47,570.95 185.79,659.05 96.21,659.05 68.53,570.95" fill="none" stroke="#444" stroke-width="0.6" stroke-dasharray="1.2 1.6" opacity="1"/>
<line x1="141" y1="595.3" x2="141.00" y2="516.50" stroke="#777" stroke-width="0.6" stroke-dasharray="1.2 1.5"/>
<line x1="141" y1="595.3" x2="213.47" y2="570.95" stroke="#222" stroke-width="0.75" stroke-dasharray="2.2 0.6" opacity="1"/>
<line x1="141" y1="595.3" x2="185.79" y2="659.05" stroke="#222" stroke-width="0.75" stroke-dasharray="2.2 0.6" opacity="1"/>
<line x1="141" y1="595.3" x2="96.21" y2="659.05" stroke="#222" stroke-width="0.75" stroke-dasharray="2.2 0.6" opacity="1"/>
<line x1="141" y1="595.3" x2="68.53" y2="570.95" stroke="#222" stroke-width="0.75" stroke-dasharray="2.2 0.6" opacity="1"/>
<defs><clipPath id="cg1"><polygon points="141.00,575.60 177.24,583.12 174.59,643.11 96.21,659.05 86.65,577.04"/></clipPath><clipPath id="cb1"><polygon points="141.00,516.50 177.24,583.12 185.79,659.05 107.41,643.11 86.65,577.04"/></clipPath><clipPath id="cbg1"><polygon points="141.00,516.50 177.24,583.12 185.79,659.05 107.41,643.11 86.65,577.04" clip-path="url(#cg1)"/></clipPath></defs>
<polygon points="141.00,575.60 177.24,583.12 174.59,643.11 96.21,659.05 86.65,577.04" fill="#d3e3c5"/>
<polygon points="141.00,516.50 177.24,583.12 185.79,659.05 107.41,643.11 86.65,577.04" fill="#afcde6"/>
<polygon points="141.00,575.60 177.24,583.12 174.59,643.11 96.21,659.05 86.65,577.04" fill="#8fb2b9" clip-path="url(#cb1)"/>
<polygon points="141.00,536.20 195.35,577.04 163.39,627.18 118.61,627.18 104.76,583.12" fill="#e4989b"/>
<polygon points="141.00,536.20 195.35,577.04 163.39,627.18 118.61,627.18 104.76,583.12" fill="#c38773" clip-path="url(#cg1)"/>
<polygon points="141.00,536.20 195.35,577.04 163.39,627.18 118.61,627.18 104.76,583.12" fill="#a07687" clip-path="url(#cb1)"/>
<polygon points="141.00,536.20 195.35,577.04 163.39,627.18 118.61,627.18 104.76,583.12" fill="#a56c70" clip-path="url(#cbg1)"/>
<polygon points="141.00,575.60 159.12,589.21 152.20,611.24 129.80,611.24 122.88,589.21" fill="none" stroke="#3a2a2a" stroke-width="0.5" stroke-dasharray="1.2 1.6" opacity="0.4"/>
<polygon points="141.00,555.90 177.24,583.12 163.39,627.18 118.61,627.18 104.76,583.12" fill="none" stroke="#3a2a2a" stroke-width="0.5" stroke-dasharray="1.2 1.6" opacity="0.4"/>
<polygon points="141.00,536.20 195.35,577.04 174.59,643.11 107.41,643.11 86.65,577.04" fill="none" stroke="#3a2a2a" stroke-width="0.5" stroke-dasharray="1.2 1.6" opacity="0.4"/>
<polygon points="141.00,516.50 213.47,570.95 185.79,659.05 96.21,659.05 68.53,570.95" fill="none" stroke="#3a2a2a" stroke-width="0.6" stroke-dasharray="1.2 1.6" opacity="0.4"/>
<line x1="141" y1="595.3" x2="141.00" y2="516.50" stroke="#3a2020" stroke-width="0.55" stroke-dasharray="2.2 0.6" opacity="0.6"/>
<line x1="141" y1="595.3" x2="213.47" y2="570.95" stroke="#3a2020" stroke-width="0.55" stroke-dasharray="2.2 0.6" opacity="0.6"/>
<line x1="141" y1="595.3" x2="185.79" y2="659.05" stroke="#3a2020" stroke-width="0.55" stroke-dasharray="2.2 0.6" opacity="0.6"/>
<line x1="141" y1="595.3" x2="96.21" y2="659.05" stroke="#3a2020" stroke-width="0.55" stroke-dasharray="2.2 0.6" opacity="0.6"/>
<line x1="141" y1="595.3" x2="68.53" y2="570.95" stroke="#3a2020" stroke-width="0.55" stroke-dasharray="2.2 0.6" opacity="0.6"/>
<polygon points="141.00,575.60 177.24,583.12 174.59,643.11 96.21,659.05 86.65,577.04" fill="none" stroke="#3c641e" stroke-width="0.8" stroke-opacity="0.42" stroke-linejoin="round"/>
<polygon points="141.00,516.50 177.24,583.12 185.79,659.05 107.41,643.11 86.65,577.04" fill="none" stroke="#22609f" stroke-width="0.8" stroke-opacity="0.8" stroke-linejoin="round"/>
<polygon points="141.00,536.20 195.35,577.04 163.39,627.18 118.61,627.18 104.76,583.12" fill="none" stroke="#7d1f28" stroke-width="0.8" stroke-opacity="0.95" stroke-linejoin="round"/>
<text x="138.40" y="513.20" font-size="9.5" font-weight="bold" fill="#000" text-anchor="middle" >Protection efficiency</text>
<text x="64.80" y="572.40" font-size="9.5" font-weight="bold" fill="#000" text-anchor="end" >Scalability</text>
<text x="234.60" y="561.40" font-size="9.5" font-weight="bold" fill="#000" text-anchor="middle" >Volume</text>
<text x="234.60" y="576.00" font-size="9.5" font-weight="bold" fill="#000" text-anchor="middle" >energy</text>
<text x="234.60" y="590.60" font-size="9.5" font-weight="bold" fill="#000" text-anchor="middle" >density</text>
<text x="89.90" y="668.90" font-size="9.5" font-weight="bold" fill="#000" text-anchor="middle" >Cost</text>
<text x="89.90" y="683.50" font-size="9.5" font-weight="bold" fill="#000" text-anchor="middle" >effectiveness</text>
<text x="204.20" y="668.90" font-size="9.5" font-weight="bold" fill="#000" text-anchor="middle" >Processing</text>
<text x="204.20" y="683.50" font-size="9.5" font-weight="bold" fill="#000" text-anchor="middle" >simplicity</text>
<polygon points="410.30,574.20 428.70,587.67 421.67,609.48 398.93,609.48 391.90,587.67" fill="none" stroke="#777" stroke-width="0.5" stroke-dasharray="1.2 1.6" opacity="1"/>
<polygon points="410.30,554.70 447.11,581.65 433.05,625.25 387.55,625.25 373.49,581.65" fill="none" stroke="#777" stroke-width="0.5" stroke-dasharray="1.2 1.6" opacity="1"/>
<polygon points="410.30,535.20 465.51,575.62 444.42,641.03 376.18,641.03 355.09,575.62" fill="none" stroke="#777" stroke-width="0.5" stroke-dasharray="1.2 1.6" opacity="1"/>
<polygon points="410.30,515.70 483.91,569.60 455.79,656.80 364.81,656.80 336.69,569.60" fill="none" stroke="#444" stroke-width="0.6" stroke-dasharray="1.2 1.6" opacity="1"/>
<line x1="410.3" y1="593.7" x2="410.30" y2="515.70" stroke="#777" stroke-width="0.6" stroke-dasharray="1.2 1.5"/>
<line x1="410.3" y1="593.7" x2="483.91" y2="569.60" stroke="#222" stroke-width="0.75" stroke-dasharray="2.2 0.6" opacity="1"/>
<line x1="410.3" y1="593.7" x2="455.79" y2="656.80" stroke="#222" stroke-width="0.75" stroke-dasharray="2.2 0.6" opacity="1"/>
<line x1="410.3" y1="593.7" x2="364.81" y2="656.80" stroke="#222" stroke-width="0.75" stroke-dasharray="2.2 0.6" opacity="1"/>
<line x1="410.3" y1="593.7" x2="336.69" y2="569.60" stroke="#222" stroke-width="0.75" stroke-dasharray="2.2 0.6" opacity="1"/>
<defs><clipPath id="cg2"><polygon points="410.30,535.20 465.51,575.62 455.79,656.80 376.18,641.03 336.69,569.60"/></clipPath><clipPath id="cb2"><polygon points="410.30,515.70 465.51,575.62 455.79,656.80 376.18,641.03 336.69,569.60"/></clipPath><clipPath id="cbg2"><polygon points="410.30,515.70 465.51,575.62 455.79,656.80 376.18,641.03 336.69,569.60" clip-path="url(#cg2)"/></clipPath></defs>
<polygon points="410.30,535.20 465.51,575.62 455.79,656.80 376.18,641.03 336.69,569.60" fill="#d3e3c5"/>
<polygon points="410.30,515.70 465.51,575.62 455.79,656.80 376.18,641.03 336.69,569.60" fill="#afcde6"/>
<polygon points="410.30,535.20 465.51,575.62 455.79,656.80 376.18,641.03 336.69,569.60" fill="#8aaeb4" clip-path="url(#cb2)"/>
<polygon points="410.30,554.70 483.91,569.60 433.05,625.25 387.55,625.25 373.49,581.65" fill="#e4989b"/>
<polygon points="410.30,554.70 483.91,569.60 433.05,625.25 387.55,625.25 373.49,581.65" fill="#c38773" clip-path="url(#cg2)"/>
<polygon points="410.30,554.70 483.91,569.60 433.05,625.25 387.55,625.25 373.49,581.65" fill="#a07687" clip-path="url(#cb2)"/>
<polygon points="410.30,554.70 483.91,569.60 433.05,625.25 387.55,625.25 373.49,581.65" fill="#a2696e" clip-path="url(#cbg2)"/>
<polygon points="410.30,574.20 428.70,587.67 421.67,609.48 398.93,609.48 391.90,587.67" fill="none" stroke="#3a2a2a" stroke-width="0.5" stroke-dasharray="1.2 1.6" opacity="0.4"/>
<polygon points="410.30,554.70 447.11,581.65 433.05,625.25 387.55,625.25 373.49,581.65" fill="none" stroke="#3a2a2a" stroke-width="0.5" stroke-dasharray="1.2 1.6" opacity="0.4"/>
<polygon points="410.30,535.20 465.51,575.62 444.42,641.03 376.18,641.03 355.09,575.62" fill="none" stroke="#3a2a2a" stroke-width="0.5" stroke-dasharray="1.2 1.6" opacity="0.4"/>
<polygon points="410.30,515.70 483.91,569.60 455.79,656.80 364.81,656.80 336.69,569.60" fill="none" stroke="#3a2a2a" stroke-width="0.6" stroke-dasharray="1.2 1.6" opacity="0.4"/>
<line x1="410.3" y1="593.7" x2="410.30" y2="515.70" stroke="#3a2020" stroke-width="0.55" stroke-dasharray="2.2 0.6" opacity="0.6"/>
<line x1="410.3" y1="593.7" x2="483.91" y2="569.60" stroke="#3a2020" stroke-width="0.55" stroke-dasharray="2.2 0.6" opacity="0.6"/>
<line x1="410.3" y1="593.7" x2="455.79" y2="656.80" stroke="#3a2020" stroke-width="0.55" stroke-dasharray="2.2 0.6" opacity="0.6"/>
<line x1="410.3" y1="593.7" x2="364.81" y2="656.80" stroke="#3a2020" stroke-width="0.55" stroke-dasharray="2.2 0.6" opacity="0.6"/>
<line x1="410.3" y1="593.7" x2="336.69" y2="569.60" stroke="#3a2020" stroke-width="0.55" stroke-dasharray="2.2 0.6" opacity="0.6"/>
<polygon points="410.30,535.20 465.51,575.62 455.79,656.80 376.18,641.03 336.69,569.60" fill="none" stroke="#3c641e" stroke-width="0.8" stroke-opacity="0.42" stroke-linejoin="round"/>
<polygon points="410.30,515.70 465.51,575.62 455.79,656.80 376.18,641.03 336.69,569.60" fill="none" stroke="#22609f" stroke-width="0.8" stroke-opacity="0.8" stroke-linejoin="round"/>
<polygon points="410.30,554.70 483.91,569.60 433.05,625.25 387.55,625.25 373.49,581.65" fill="none" stroke="#7d1f28" stroke-width="0.8" stroke-opacity="0.95" stroke-linejoin="round"/>
<text x="413.10" y="511.60" font-size="9.5" font-weight="bold" fill="#000" text-anchor="middle" >Protection efficiency</text>
<text x="333.90" y="572.40" font-size="9.5" font-weight="bold" fill="#000" text-anchor="end" >Scalability</text>
<text x="503.40" y="561.40" font-size="9.5" font-weight="bold" fill="#000" text-anchor="middle" >Volume</text>
<text x="503.40" y="576.00" font-size="9.5" font-weight="bold" fill="#000" text-anchor="middle" >energy</text>
<text x="503.40" y="590.60" font-size="9.5" font-weight="bold" fill="#000" text-anchor="middle" >density</text>
<text x="362.40" y="668.90" font-size="9.5" font-weight="bold" fill="#000" text-anchor="middle" >Cost</text>
<text x="362.40" y="683.50" font-size="9.5" font-weight="bold" fill="#000" text-anchor="middle" >effectiveness</text>
<text x="473.30" y="668.90" font-size="9.5" font-weight="bold" fill="#000" text-anchor="middle" >Processing</text>
<text x="473.30" y="683.50" font-size="9.5" font-weight="bold" fill="#000" text-anchor="middle" >simplicity</text>
<polygon points="681.20,576.40 699.60,589.87 692.57,611.68 669.83,611.68 662.80,589.87" fill="none" stroke="#777" stroke-width="0.5" stroke-dasharray="1.2 1.6" opacity="1"/>
<polygon points="681.20,556.90 718.01,583.85 703.95,627.45 658.45,627.45 644.39,583.85" fill="none" stroke="#777" stroke-width="0.5" stroke-dasharray="1.2 1.6" opacity="1"/>
<polygon points="681.20,537.40 736.41,577.82 715.32,643.23 647.08,643.23 625.99,577.82" fill="none" stroke="#777" stroke-width="0.5" stroke-dasharray="1.2 1.6" opacity="1"/>
<polygon points="681.20,517.90 754.81,571.80 726.69,659.00 635.71,659.00 607.59,571.80" fill="none" stroke="#444" stroke-width="0.6" stroke-dasharray="1.2 1.6" opacity="1"/>
<line x1="681.2" y1="595.9" x2="681.20" y2="517.90" stroke="#777" stroke-width="0.6" stroke-dasharray="1.2 1.5"/>
<line x1="681.2" y1="595.9" x2="754.81" y2="571.80" stroke="#222" stroke-width="0.75" stroke-dasharray="2.2 0.6" opacity="1"/>
<line x1="681.2" y1="595.9" x2="726.69" y2="659.00" stroke="#222" stroke-width="0.75" stroke-dasharray="2.2 0.6" opacity="1"/>
<line x1="681.2" y1="595.9" x2="635.71" y2="659.00" stroke="#222" stroke-width="0.75" stroke-dasharray="2.2 0.6" opacity="1"/>
<line x1="681.2" y1="595.9" x2="607.59" y2="571.80" stroke="#222" stroke-width="0.75" stroke-dasharray="2.2 0.6" opacity="1"/>
<defs><clipPath id="cg3"><polygon points="681.20,537.40 754.81,571.80 703.95,627.45 669.83,611.68 644.39,583.85"/></clipPath><clipPath id="cb3"><polygon points="681.20,556.90 754.81,571.80 703.95,627.45 669.83,611.68 644.39,583.85"/></clipPath><clipPath id="cbg3"><polygon points="681.20,556.90 754.81,571.80 703.95,627.45 669.83,611.68 644.39,583.85" clip-path="url(#cg3)"/></clipPath></defs>
<polygon points="681.20,537.40 754.81,571.80 703.95,627.45 669.83,611.68 644.39,583.85" fill="#d3e3c5"/>
<polygon points="681.20,556.90 754.81,571.80 703.95,627.45 669.83,611.68 644.39,583.85" fill="#afcde6"/>
<polygon points="681.20,537.40 754.81,571.80 703.95,627.45 669.83,611.68 644.39,583.85" fill="#7eacb4" clip-path="url(#cb3)"/>
<polygon points="681.20,556.90 754.81,571.80 715.32,643.23 658.45,627.45 625.99,577.82" fill="#e4989b"/>
<polygon points="681.20,556.90 754.81,571.80 715.32,643.23 658.45,627.45 625.99,577.82" fill="#c38773" clip-path="url(#cg3)"/>
<polygon points="681.20,556.90 754.81,571.80 715.32,643.23 658.45,627.45 625.99,577.82" fill="#a07687" clip-path="url(#cb3)"/>
<polygon points="681.20,556.90 754.81,571.80 715.32,643.23 658.45,627.45 625.99,577.82" fill="#94696f" clip-path="url(#cbg3)"/>
<polygon points="681.20,576.40 699.60,589.87 692.57,611.68 669.83,611.68 662.80,589.87" fill="none" stroke="#3a2a2a" stroke-width="0.5" stroke-dasharray="1.2 1.6" opacity="0.4"/>
<polygon points="681.20,556.90 718.01,583.85 703.95,627.45 658.45,627.45 644.39,583.85" fill="none" stroke="#3a2a2a" stroke-width="0.5" stroke-dasharray="1.2 1.6" opacity="0.4"/>
<polygon points="681.20,537.40 736.41,577.82 715.32,643.23 647.08,643.23 625.99,577.82" fill="none" stroke="#3a2a2a" stroke-width="0.5" stroke-dasharray="1.2 1.6" opacity="0.4"/>
<polygon points="681.20,517.90 754.81,571.80 726.69,659.00 635.71,659.00 607.59,571.80" fill="none" stroke="#3a2a2a" stroke-width="0.6" stroke-dasharray="1.2 1.6" opacity="0.4"/>
<line x1="681.2" y1="595.9" x2="681.20" y2="517.90" stroke="#3a2020" stroke-width="0.55" stroke-dasharray="2.2 0.6" opacity="0.6"/>
<line x1="681.2" y1="595.9" x2="754.81" y2="571.80" stroke="#3a2020" stroke-width="0.55" stroke-dasharray="2.2 0.6" opacity="0.6"/>
<line x1="681.2" y1="595.9" x2="726.69" y2="659.00" stroke="#3a2020" stroke-width="0.55" stroke-dasharray="2.2 0.6" opacity="0.6"/>
<line x1="681.2" y1="595.9" x2="635.71" y2="659.00" stroke="#3a2020" stroke-width="0.55" stroke-dasharray="2.2 0.6" opacity="0.6"/>
<line x1="681.2" y1="595.9" x2="607.59" y2="571.80" stroke="#3a2020" stroke-width="0.55" stroke-dasharray="2.2 0.6" opacity="0.6"/>
<polygon points="681.20,537.40 754.81,571.80 703.95,627.45 669.83,611.68 644.39,583.85" fill="none" stroke="#3c641e" stroke-width="0.8" stroke-opacity="0.42" stroke-linejoin="round"/>
<polygon points="681.20,556.90 754.81,571.80 703.95,627.45 669.83,611.68 644.39,583.85" fill="none" stroke="#4b4a7a" stroke-width="0.8" stroke-opacity="0.75" stroke-linejoin="round"/>
<polygon points="681.20,556.90 754.81,571.80 715.32,643.23 658.45,627.45 625.99,577.82" fill="none" stroke="#7d1f28" stroke-width="0.8" stroke-opacity="0.95" stroke-linejoin="round"/>
<text x="682.20" y="511.60" font-size="9.5" font-weight="bold" fill="#000" text-anchor="middle" >Protection efficiency</text>
<text x="603.90" y="572.40" font-size="9.5" font-weight="bold" fill="#000" text-anchor="end" >Scalability</text>
<text x="775.00" y="561.40" font-size="9.5" font-weight="bold" fill="#000" text-anchor="middle" >Volume</text>
<text x="775.00" y="576.00" font-size="9.5" font-weight="bold" fill="#000" text-anchor="middle" >energy</text>
<text x="775.00" y="590.60" font-size="9.5" font-weight="bold" fill="#000" text-anchor="middle" >density</text>
<text x="631.50" y="668.90" font-size="9.5" font-weight="bold" fill="#000" text-anchor="middle" >Cost</text>
<text x="631.50" y="683.50" font-size="9.5" font-weight="bold" fill="#000" text-anchor="middle" >effectiveness</text>
<text x="742.70" y="668.90" font-size="9.5" font-weight="bold" fill="#000" text-anchor="middle" >Processing</text>
<text x="742.70" y="683.50" font-size="9.5" font-weight="bold" fill="#000" text-anchor="middle" >simplicity</text>
</svg>
</body></html>
